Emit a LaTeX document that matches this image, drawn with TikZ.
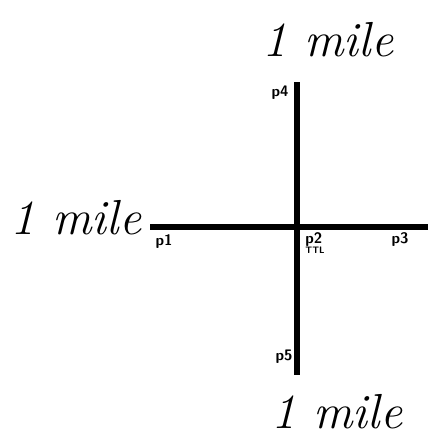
\documentclass[tikz,border=0pt]{standalone}
\usepackage{xcolor}
\definecolor{cInk}{HTML}{000000}
\usepackage{tikz}
\usetikzlibrary{positioning}
\tikzset{
  road/.style={draw=cInk,line width=5pt},
  pt-label/.style={font=\sffamily\bfseries\fontsize{13}{13}\selectfont,inner sep=1pt,text=cInk},
  dist-label/.style={font=\itshape\fontsize{42}{44}\selectfont,inner sep=0pt,text=cInk},
}

\begin{document}
\begin{tikzpicture}[x=0.03cm,y=-0.03cm]
  \useasboundingbox (0,0) rectangle (440,441);
  % road junction points
  \coordinate (p1) at (150,227);
  \coordinate (p2) at (297,227);
  \coordinate (p3) at (428,227);
  \coordinate (p4) at (297,82);
  \coordinate (p5) at (297,375);
  \draw[road] (p1) -- (p2) -- (p3);
  \draw[road] (p4) -- (p2) -- (p5);
  % point names
  \node[pt-label] (lp1) at (164,242) {p1};
  \node[pt-label,align=left] (lp2) at (315,243) {p2\\[-5pt]{\footnotesize TTL}};
  \node[pt-label] (lp3) at (400,240) {p3};
  \node[pt-label] (lp4) at (280,93) {p4};
  \node[pt-label] (lp5) at (284,357) {p5};
  % distances
  \node[dist-label] (mtop) at (328,40) {1 mile};
  \node[dist-label] (mleft) at (76,218) {1 mile};
  \node[dist-label] (mbot) at (337,412) {1 mile};
\end{tikzpicture}
\end{document}
